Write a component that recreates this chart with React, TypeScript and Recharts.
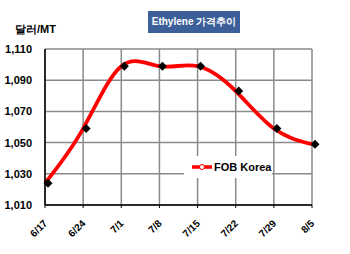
import { LineChart, Line, XAxis, YAxis, CartesianGrid } from 'recharts';

// weekly price, FOB Korea (USD/MT)
const dates = ['6/17', '6/24', '7/1', '7/8', '7/15', '7/22', '7/29', '8/5'];
const fobKorea = [1024, 1059, 1099, 1099, 1099, 1083, 1059, 1049];
const yTicks = [1010, 1030, 1050, 1070, 1090, 1110];

const data = dates.map((d, i) => ({ date: d, fob: fobKorea[i] }));

const font = 'Arial, "Liberation Sans", sans-serif';

const Diamond = (props: any) => {
  const { cx, cy } = props;
  if (cx == null || cy == null) return null;
  const s = 4.5;
  return (
    <path
      d={`M${cx + 3},${cy - s} L${cx + 3 + s},${cy} L${cx + 3},${cy + s} L${cx + 3 - s},${cy} Z`}
      fill="#000"
    />
  );
};

const XTick = (props: any) => {
  const { x, y, payload } = props;
  const tx = x + 3;
  const ty = y + 14;
  return (
    <text
      x={tx}
      y={ty}
      transform={`rotate(-45 ${tx} ${ty})`}
      textAnchor="end"
      fontFamily={font}
      fontSize={10}
      fontWeight="bold"
      fill="#000"
    >
      {payload.value}
    </text>
  );
};

export default function App() {
  return (
    <div style={{ position: 'absolute', left: 0, top: 0, width: 350, height: 254, background: '#fff', fontFamily: font }}>
      <LineChart width={350} height={254} data={data} margin={{ top: 49, right: 38, bottom: 0, left: 0 }}>
        <CartesianGrid stroke="#8a8a8a" strokeWidth={1.5} />
        <XAxis
          dataKey="date"
          height={49}
          tick={<XTick />}
          tickLine={{ stroke: '#000' }}
          tickSize={3}
          axisLine={{ stroke: '#000', strokeWidth: 1.5 }}
          interval={0}
        />
        <YAxis
          domain={[1010, 1110]}
          ticks={yTicks}
          width={45}
          tickLine={false}
          tickSize={0}
          tickMargin={13}
          axisLine={{ stroke: '#000', strokeWidth: 1.5 }}
          tickFormatter={(v: number) => v.toLocaleString('en-US')}
          tick={{ fontFamily: font, fontSize: 11, fontWeight: 'bold', fill: '#000' }}
        />
        <Line
          dataKey="fob"
          type="natural"
          stroke="#ff0000"
          strokeWidth={3.8}
          dot={<Diamond />}
          isAnimationActive={false}
        />
      </LineChart>
      <div
        style={{
          position: 'absolute',
          left: 148,
          top: 11,
          width: 92,
          height: 22,
          background: '#3c5f9a',
          color: '#fff',
          fontSize: 10,
          fontWeight: 'bold',
          lineHeight: '22px',
          textAlign: 'center',
          whiteSpace: 'nowrap',
          fontFamily: font,
        }}
      >
        Ethylene 가격추이
      </div>
      <div style={{ position: 'absolute', left: 15, top: 22, fontSize: 11, fontWeight: 'bold', color: '#000' }}>
        달러/MT
      </div>
      <div
        style={{
          position: 'absolute',
          left: 184,
          top: 156,
          width: 88,
          height: 22,
          background: '#fff',
          display: 'flex',
          alignItems: 'center',
          fontSize: 11,
          fontWeight: 'bold',
          color: '#000',
        }}
      >
        <svg width={22} height={10} style={{ marginLeft: 8 }}>
          <line x1={0} y1={5} x2={20} y2={5} stroke="#ff0000" strokeWidth={3.5} />
          <circle cx={10} cy={5} r={2.5} fill="#fff" stroke="#ff0000" strokeWidth={1} />
        </svg>
        <span>FOB Korea</span>
      </div>
    </div>
  );
}
